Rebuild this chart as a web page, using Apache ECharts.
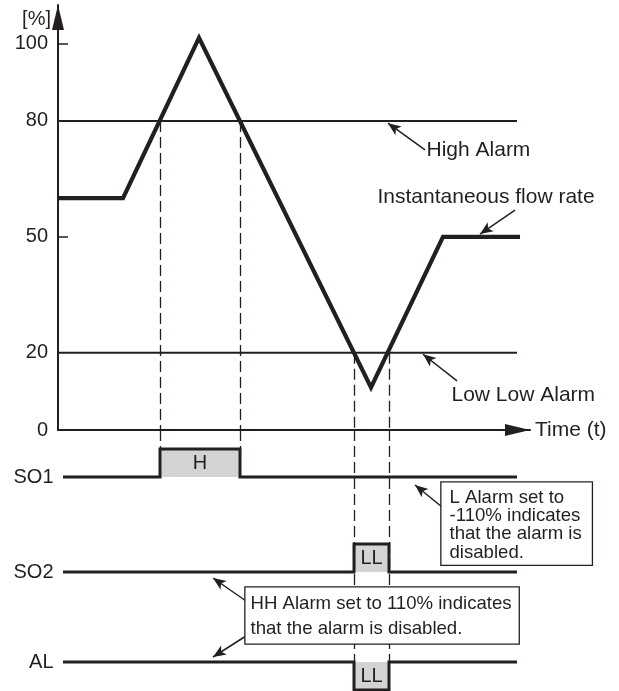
<!DOCTYPE html>
<html>
<head>
<meta charset="utf-8">
<script src="https://cdn.jsdelivr.net/npm/echarts@6/dist/echarts.min.js"></script>
<style>
html,body{margin:0;padding:0;background:#fff;}
#chart{width:619px;height:691px;}
</style>
</head>
<body>
<div id="chart"></div>
<script>
// ---- data ----
const flowTime = [0, 65, 141, 313, 385, 462];
const flowRate = [60, 60, 101.5, 11, 50, 50];
const yTickLabels = [0, 20, 50, 80, 100];
const yTickMarks = [50, 100];
const alarmNames = ['High Alarm', 'Low Low Alarm'];
const alarmValues = [80, 20];
const alarmEndTime = 459;
const crossTimes = [102, 182, 296, 331];        // where flow crosses alarm levels
const crossLevels = [80, 80, 20, 20];

// output signals (bottom panel, arbitrary level units)
const signalNames = ['SO1', 'SO2', 'AL'];
const signalBase = [214, 119, 29];
const signalPulse = [242, 147, 1];
const pulseStart = [102, 296, 296];
const pulseEnd = [182, 331, 331];
const pulseLabels = ['H', 'LL', 'LL'];
const signalStart = 5;
const signalEnd = 459;

const TEXT = '#231f20';
const FONT = '"Liberation Sans", Arial, Helvetica, sans-serif';

const chart = echarts.init(document.getElementById('chart'), null, {renderer: 'canvas'});

const series = [];

// dashed guide lines (drawn first, underneath)
const dashTop = [], dashBottom = [];
crossTimes.forEach((t, i) => {
  dashTop.push([{coord: [t, crossLevels[i]]}, {coord: [t, 0]}]);
  const endLevel = i < 2 ? signalPulse[0] : signalBase[2];
  dashBottom.push([{coord: [t, 261]}, {coord: [t, endLevel]}]);
});
const dashStyle = {color: TEXT, width: 1.3, type: [11, 5]};
series.push({
  type: 'line', xAxisIndex: 0, yAxisIndex: 0, data: [], z: 1, silent: true,
  markLine: {silent: true, symbol: ['none', 'none'], label: {show: false}, lineStyle: dashStyle, data: dashTop}
});
series.push({
  type: 'line', xAxisIndex: 1, yAxisIndex: 1, data: [], z: 1, silent: true,
  markLine: {silent: true, symbol: ['none', 'none'], label: {show: false}, lineStyle: dashStyle, data: dashBottom}
});

// alarm levels
alarmValues.forEach((v, i) => {
  series.push({
    type: 'line', name: alarmNames[i], xAxisIndex: 0, yAxisIndex: 0, z: 2,
    data: [[0, v], [alarmEndTime, v]], symbol: 'none', silent: true,
    lineStyle: {color: TEXT, width: 2}
  });
});

// flow rate
series.push({
  type: 'line', name: 'Instantaneous flow rate', xAxisIndex: 0, yAxisIndex: 0, z: 3,
  data: flowTime.map((t, i) => [t, flowRate[i]]), symbol: 'none', silent: true,
  lineStyle: {color: TEXT, width: 4.2, join: 'miter', miterLimit: 10, cap: 'butt'}
});

// signals
signalNames.forEach((n, i) => {
  const b = signalBase[i], p = signalPulse[i];
  series.push({
    type: 'line', name: n, xAxisIndex: 1, yAxisIndex: 1, z: 3, clip: false, silent: true,
    data: [[signalStart, b], [pulseStart[i], b], [pulseStart[i], p], [pulseEnd[i], p], [pulseEnd[i], b], [signalEnd, b]],
    symbol: 'none',
    lineStyle: {color: TEXT, width: 3, join: 'miter'},
    markArea: {
      silent: true,
      itemStyle: {color: '#d3d3d3'},
      label: {show: true, position: 'inside', formatter: pulseLabels[i], fontSize: 20, color: TEXT, fontFamily: FONT},
      data: [[{coord: [pulseStart[i], b]}, {coord: [pulseEnd[i], p]}]]
    },
    markPoint: {
      silent: true, symbol: 'rect', symbolSize: 1, itemStyle: {color: 'rgba(0,0,0,0)'},
      label: {show: true, position: 'left', distance: 9, formatter: n, fontSize: 20, color: TEXT, fontFamily: FONT},
      data: [{coord: [signalStart, b]}]
    }
  });
});

// annotations: arrows and texts
const arrowStyle = {color: TEXT, width: 1.5, type: 'solid'};
const topArrows = [
  [[367, 72.5], [330, 79.4]],
  [[457, 56.9], [422, 50.7]],
  [[399, 12.7], [365, 19.6]]
];
const topTexts = [
  {text: 'High Alarm', at: [368, 72.5]},
  {text: 'Instantaneous flow rate', at: [319, 60.3]},
  {text: 'Low Low Alarm', at: [393, 9.1]}
];
series.push({
  type: 'line', xAxisIndex: 0, yAxisIndex: 0, data: [], z: 5, silent: true,
  markLine: {
    silent: true, symbol: ['none', 'arrow'], symbolSize: [8, 13], label: {show: false},
    lineStyle: arrowStyle,
    data: topArrows.map(a => [{coord: a[0]}, {coord: a[1]}])
  },
  markPoint: {
    silent: true, symbol: 'rect', symbolSize: 1, itemStyle: {color: 'rgba(0,0,0,0)'},
    data: topTexts.map(t => ({
      coord: t.at,
      label: {show: true, position: 'right', distance: 0, formatter: t.text, fontSize: 21, color: TEXT, fontFamily: FONT}
    }))
  }
});

const bottomArrows = [
  [[384, 184], [357, 206]],
  [[188, 90], [155, 113]],
  [[188, 55], [155, 34]]
];
const boxTexts = [
  {text: 'L Alarm set to\n-110% indicates\nthat the alarm is\ndisabled.', at: [384, 208], lh: 18.3, pad: [6, 10, 3, 8]},
  {text: 'HH Alarm set to 110% indicates\nthat the alarm is disabled.', at: [188, 103], lh: 25, pad: [4, 7, 2, 5]}
];
series.push({
  type: 'line', xAxisIndex: 1, yAxisIndex: 1, data: [], z: 6, silent: true,
  markLine: {
    silent: true, symbol: ['none', 'arrow'], symbolSize: [8, 13], label: {show: false},
    lineStyle: arrowStyle,
    data: bottomArrows.map(a => [{coord: a[0]}, {coord: a[1]}])
  },
  markPoint: {
    silent: true, symbol: 'rect', symbolSize: 1, itemStyle: {color: 'rgba(0,0,0,0)'},
    data: boxTexts.map(t => ({
      coord: t.at,
      label: {
        show: true, position: [0, 0], align: 'left', verticalAlign: 'top',
        formatter: t.text, fontSize: 18.6, lineHeight: t.lh, color: TEXT, fontFamily: FONT,
        backgroundColor: '#fff', borderColor: TEXT, borderWidth: 1.3, padding: t.pad
      }
    }))
  }
});

const option = {
  animation: false,
  backgroundColor: '#fff',
  textStyle: {fontFamily: FONT},
  grid: [
    {left: 58, top: 5, width: 472, height: 425},
    {left: 58, top: 430, width: 472, height: 261}
  ],
  xAxis: [
    {
      type: 'value', gridIndex: 0, min: 0, max: 472,
      axisLine: {show: true, lineStyle: {color: TEXT, width: 2}, symbol: ['none', 'triangle'], symbolSize: [12, 25], symbolOffset: [0, -12.5]},
      axisTick: {show: false}, axisLabel: {show: false}, splitLine: {show: false},
      name: 'Time (t)', nameLocation: 'end', nameGap: 5,
      nameTextStyle: {fontSize: 21, color: TEXT, align: 'left', verticalAlign: 'middle', fontFamily: FONT}
    },
    {type: 'value', gridIndex: 1, min: 0, max: 472, show: false}
  ],
  yAxis: [
    {
      type: 'value', gridIndex: 0, min: 0, max: 110,
      axisLine: {show: true, lineStyle: {color: TEXT, width: 2}, symbol: ['none', 'triangle'], symbolSize: [12, 25], symbolOffset: [0, -12.5]},
      axisTick: {show: true, inside: true, length: 10, customValues: yTickMarks, lineStyle: {color: TEXT, width: 1.5}},
      axisLabel: {show: true, customValues: yTickLabels, fontSize: 20, color: TEXT, margin: 10, fontFamily: FONT},
      splitLine: {show: false},
      name: '[%]', nameLocation: 'end', nameGap: -14,
      nameTextStyle: {fontSize: 20, color: TEXT, align: 'right', verticalAlign: 'middle', padding: [0, 7, 0, 0], fontFamily: FONT}
    },
    {type: 'value', gridIndex: 1, min: 0, max: 261, show: false}
  ],
  series: series
};
chart.setOption(option);
</script>
</body>
</html>
